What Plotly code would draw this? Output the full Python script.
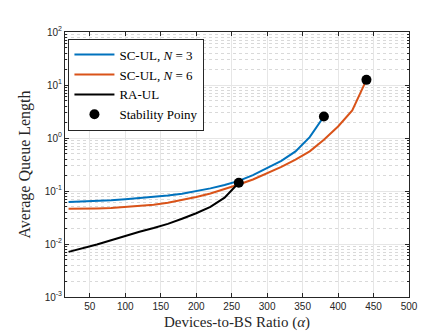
import plotly.graph_objects as go

# Devices-to-BS ratio samples
alpha_sc3 = [20, 40, 60, 80, 100, 120, 140, 160, 180, 200, 220, 240, 260, 280, 300, 320, 340, 360, 380]
queue_sc3 = [0.062, 0.063, 0.065, 0.067, 0.070, 0.073, 0.077, 0.082, 0.089, 0.099, 0.112, 0.130, 0.155,
             0.20, 0.27, 0.37, 0.56, 1.04, 2.55]

alpha_sc6 = [20, 40, 60, 80, 100, 120, 140, 160, 180, 200, 220, 240, 260, 280, 300, 320, 340, 360, 380,
             400, 420, 440]
queue_sc6 = [0.046, 0.046, 0.047, 0.048, 0.050, 0.052, 0.055, 0.060, 0.067, 0.077, 0.090, 0.108, 0.133,
             0.165, 0.215, 0.285, 0.39, 0.56, 0.93, 1.65, 3.3, 12.5]

alpha_ra = [20, 40, 60, 80, 100, 120, 140, 160, 180, 200, 220, 240, 260]
queue_ra = [0.0071, 0.0083, 0.0098, 0.0118, 0.0143, 0.017, 0.020, 0.024, 0.030, 0.038, 0.050, 0.075, 0.143]

stab_alpha = [260, 380, 440]
stab_queue = [0.143, 2.55, 12.5]

x_ticks = [50, 100, 150, 200, 250, 300, 350, 400, 450, 500]
y_ticks = [1e-3, 1e-2, 1e-1, 1, 10, 100]
y_ticktext = ['10<sup>-3</sup>', '10<sup>-2</sup>', '10<sup>-1</sup>', '10<sup>0</sup>',
              '10<sup>1</sup>', '10<sup>2</sup>']

# minor log gridlines (2..9 in each decade)
y_minor = [m * d for d in y_ticks[:-1] for m in range(2, 10)]

serif = 'Liberation Serif'
sans = 'Liberation Sans'

fig = go.Figure()
fig.add_trace(go.Scatter(x=alpha_sc3, y=queue_sc3, mode='lines', name='SC-UL, <i>N</i> = 3',
                         line=dict(color='#0072BD', width=2)))
fig.add_trace(go.Scatter(x=alpha_sc6, y=queue_sc6, mode='lines', name='SC-UL, <i>N</i> = 6',
                         line=dict(color='#D95319', width=2)))
fig.add_trace(go.Scatter(x=alpha_ra, y=queue_ra, mode='lines', name='RA-UL',
                         line=dict(color='#000000', width=2)))
fig.add_trace(go.Scatter(x=stab_alpha, y=stab_queue, mode='markers', name='Stability Poiny',
                         marker=dict(color='#000000', size=10)))

fig.update_layout(
    width=443, height=332,
    margin=dict(l=57, r=42, t=24, b=37),
    paper_bgcolor='white', plot_bgcolor='white',
    showlegend=True,
    legend=dict(x=0.01, y=0.975, xanchor='left', yanchor='top',
                bgcolor='white', bordercolor='#262626', borderwidth=1,
                font=dict(family=serif, size=13, color='#000000'),
                tracegroupgap=0, itemwidth=40),
)
fig.update_xaxes(
    range=[15, 500], tickvals=x_ticks,
    ticks='inside', ticklen=4, tickcolor='#262626', mirror='allticks',
    showline=True, linecolor='#262626', linewidth=1,
    showgrid=True, gridcolor='#e6e6e6', gridwidth=1, zeroline=False,
    tickfont=dict(family=sans, size=10, color='#262626'),
    title=dict(text='Devices-to-BS Ratio (<i>α</i>)', standoff=5,
               font=dict(family=serif, size=15, color='#262626')),
)
fig.update_yaxes(
    type='log', range=[-3, 2], tickvals=y_ticks, ticktext=y_ticktext,
    ticks='inside', ticklen=4, tickcolor='#262626', mirror='allticks',
    showline=True, linecolor='#262626', linewidth=1,
    showgrid=True, gridcolor='#e6e6e6', gridwidth=1, zeroline=False,
    tickfont=dict(family=sans, size=10, color='#262626'),
    minor=dict(tickvals=y_minor, ticks='inside', ticklen=2, tickcolor='#262626', showgrid=True,
               griddash='dot', gridcolor='#d9d9d9', gridwidth=1),
    title=dict(text='Average Queue Length', standoff=10,
               font=dict(family=serif, size=16, color='#262626')),
)

fig.write_html("out.html")
